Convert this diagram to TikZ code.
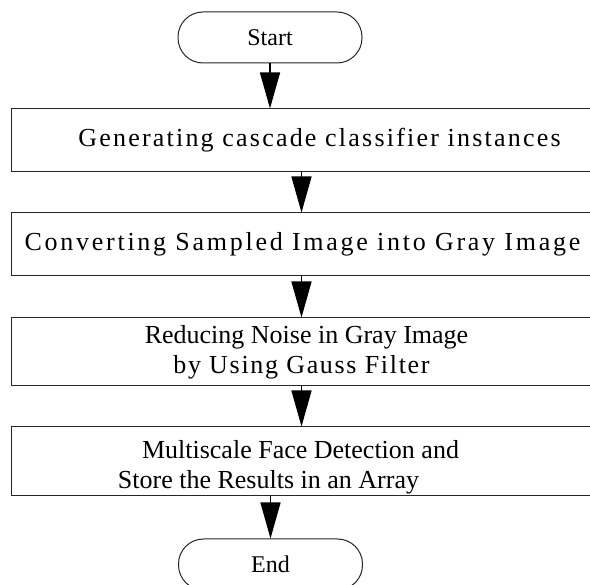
\documentclass[tikz,border=0pt]{standalone}
\usepackage{fontspec}
\setmainfont{Liberation Serif}
\usetikzlibrary{arrows.meta}
% one centred line, moved sideways by #1 and tracked by #2 (percent of an em)
\newcommand\boxline[3]{\hspace*{\dimexpr 2\dimexpr #1pt\relax\relax}{\addfontfeatures{LetterSpace=#2}#3}}
\begin{document}
\begin{tikzpicture}[x=1pt,y=-1pt,
  term/.style={draw=black!85, line width=1pt, rounded corners=25pt,
    minimum width=184pt, minimum height=51pt, inner sep=0pt,
    font=\fontsize{24}{29}\selectfont},
  proc/.style={draw=black!85, line width=1pt, minimum width=581pt,
    inner sep=0pt, align=center, font=\fontsize{26}{30}\selectfont},
  plain/.style={inner sep=0pt, align=center, font=\fontsize{26}{30}\selectfont},
  flow/.style={line width=1.3pt, -{Triangle[length=36pt,width=20pt]}}]
\useasboundingbox (0,0) rectangle (590,585);

% terminals and process steps
\node[term] (start) at (270,37.5) {Start};
\node[proc, minimum height=63pt] (gen) at (301.5,140.5)
  {\boxline{18}{8.5}{Generating cascade classifier instances}};
\node[proc, minimum height=63pt] (gray) at (301.5,244.5)
  {\boxline{1}{10.5}{Converting Sampled Image into Gray Image}};
\node[proc, minimum height=68pt] (noise) at (301.5,352)
  {\boxline{5}{0}{Reducing Noise in Gray Image}\\
   \boxline{0}{6.5}{by Using Gauss Filter}};
\node[proc, minimum height=69pt] (detect) at (301.5,461.5) {};
\node[plain] (detect-text) at ([yshift=-6pt]detect.center)
  {\boxline{-1}{0}{Multiscale Face Detection and}\\
   \boxline{-33}{0}{Store the Results in an Array}};
\node[term] (end) at (270.5,564.5) {End};

% connectors
\draw[flow] (start.south) -- (start.south |- gen.north);
\draw[flow] (gen.south) -- (gray.north);
\draw[flow] (gray.south) -- (noise.north);
\draw[flow] (noise.south) -- (detect.north);
\draw[flow] (detect.south -| end.north) -- (end.north);
\end{tikzpicture}
\end{document}
